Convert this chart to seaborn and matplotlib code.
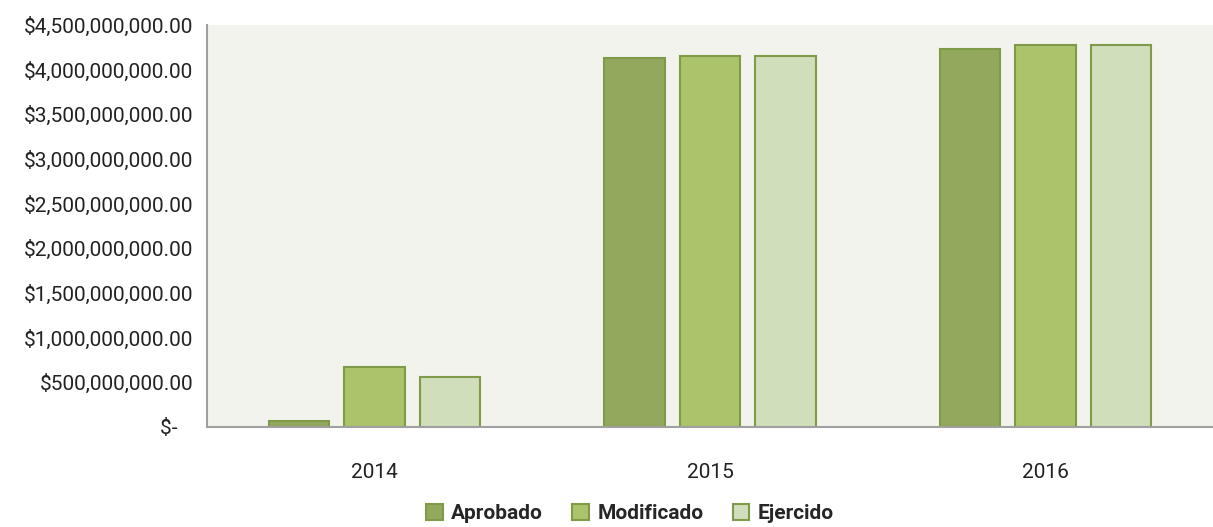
import pandas as pd
import seaborn as sns
import matplotlib.pyplot as plt
from matplotlib.ticker import FuncFormatter

# data
years = ["2014", "2015", "2016"]
series = ["Aprobado", "Modificado", "Ejercido"]
aprobado = [70e6, 4134e6, 4228e6]
modificado = [668e6, 4153e6, 4276e6]
ejercido = [563e6, 4153e6, 4276e6]
colors = ["#92A85C", "#ABC46C", "#D0DEBB"]

df = pd.DataFrame({
    "Año": years * 3,
    "Serie": [s for s in series for _ in years],
    "Monto": aprobado + modificado + ejercido,
})

sns.set_theme(style="white")
plt.rcParams['font.family'] = ['Roboto', 'DejaVu Sans']

fig = plt.figure(figsize=(12.13, 5.27), dpi=100)
ax = fig.add_axes([207 / 1213, 1 - 427 / 527, 1 - 207 / 1213, 402 / 527])
ax.set_facecolor("#F1F3EC")

sns.barplot(data=df, x="Año", y="Monto", hue="Serie", palette=colors,
            width=0.675, gap=0.2, edgecolor="#7F9A48", linewidth=1.5,
            saturation=1, ax=ax)

def money(v, pos):
    if v == 0:
        return "$-   "
    return f"${v:,.2f}"

ax.set_ylim(0, 4.5e9)
ax.set_yticks([i * 5e8 for i in range(10)])
ax.yaxis.set_major_formatter(FuncFormatter(money))
ax.tick_params(axis="both", length=0, labelsize=15, colors="#222222")
ax.tick_params(axis="y", pad=10)
ax.tick_params(axis="x", pad=26)
ax.set_xlabel("")
ax.set_ylabel("")

for side in ["top", "right"]:
    ax.spines[side].set_visible(False)
for side in ["left", "bottom"]:
    ax.spines[side].set_color("#A0A0A0")
    ax.spines[side].set_linewidth(1.5)

handles, labels = ax.get_legend_handles_labels()
ax.legend(handles, labels, loc="lower center",
          bbox_to_anchor=((630 - 207) / 1006, -0.285),
          ncol=3, frameon=False, handlelength=0.8, handleheight=0.8,
          handletextpad=0.4, columnspacing=1.4,
          prop={"weight": "bold", "size": 15})

fig.savefig("out.png", dpi=100)
